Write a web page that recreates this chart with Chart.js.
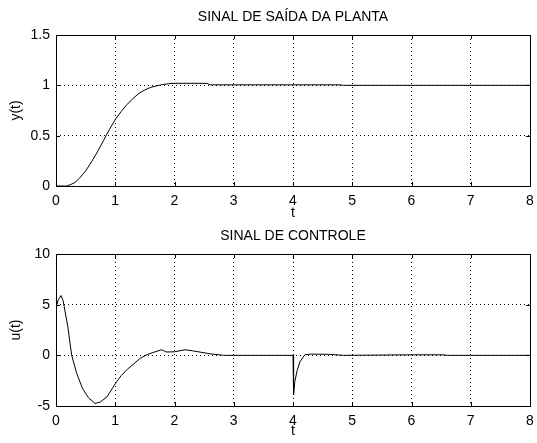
<!DOCTYPE html>
<html>
<head>
<meta charset="utf-8">
<script src="https://cdn.jsdelivr.net/npm/chart.js@4/dist/chart.umd.min.js"></script>
<style>
  body { margin: 0; background: #fff; }
  #wrap { position: relative; width: 537px; height: 443px; }
  canvas { position: absolute; left: 0; }
</style>
</head>
<body>
<div id="wrap">
  <canvas id="plantChart" style="top:0"></canvas>
  <canvas id="controlChart" style="top:222px"></canvas>
</div>
<script>
// plant output y(t)
var plantT = [0, 0.1, 0.18, 0.25, 0.32, 0.4, 0.5, 0.6, 0.7, 0.8, 0.9, 1.0, 1.1, 1.2, 1.3, 1.4, 1.5, 1.6, 1.7, 1.8, 1.9, 2.0, 2.55, 2.6, 4.8, 4.85, 8];
var plantY = [0, 0, 0, 0.015, 0.035, 0.08, 0.15, 0.24, 0.34, 0.45, 0.56, 0.66, 0.74, 0.81, 0.87, 0.92, 0.955, 0.98, 0.995, 1.008, 1.016, 1.02, 1.02, 1.005, 1.005, 1.0, 1.0];

// control signal u(t)
var controlT = [0, 0.005, 0.04, 0.085, 0.12, 0.2, 0.265, 0.35, 0.45, 0.55, 0.66, 0.75, 0.86, 1.0, 1.1, 1.2, 1.3, 1.42, 1.55, 1.65, 1.78, 1.82, 1.86, 2.0, 2.18, 2.3, 2.45, 2.6, 2.83, 4.0, 4.01, 4.03, 4.07, 4.12, 4.2, 4.3, 4.6, 4.85, 6.0, 6.55, 6.6, 8];
var controlU = [2.5, 4.8, 5.5, 5.9, 5.4, 2.8, 0, -1.8, -3.3, -4.2, -4.75, -4.6, -4.1, -2.8, -2.0, -1.4, -0.9, -0.3, 0.1, 0.3, 0.55, 0.45, 0.33, 0.35, 0.55, 0.45, 0.3, 0.15, 0, 0, -3.9, -2.6, -1.5, -0.6, 0.05, 0.12, 0.1, 0, 0.05, 0.05, 0, 0];

var xTicks = [0, 1, 2, 3, 4, 5, 6, 7, 8];
var plantTicks = [0, 0.5, 1, 1.5];
var controlTicks = [-5, 0, 5, 10];

var FONT = "'Liberation Sans', Arial, sans-serif";

// box round the plot area plus inward tick marks, matlab style
var boxPlugin = {
  id: "box",
  afterDraw: function (chart) {
    var ctx = chart.ctx;
    var a = chart.chartArea;
    var xs = chart.scales.x;
    var ys = chart.scales.y;
    ctx.save();
    ctx.strokeStyle = "#000";
    ctx.lineWidth = 1;
    ctx.strokeRect(Math.round(a.left) + 0.5, Math.round(a.top) + 0.5, Math.round(a.right - a.left), Math.round(a.bottom - a.top));
    ctx.beginPath();
    xs.ticks.forEach(function (t) {
      var px = Math.round(xs.getPixelForValue(t.value)) + 0.5;
      ctx.moveTo(px, a.bottom);
      ctx.lineTo(px, a.bottom - 4);
      ctx.moveTo(px, a.top);
      ctx.lineTo(px, a.top + 4);
    });
    ys.ticks.forEach(function (t) {
      var py = Math.round(ys.getPixelForValue(t.value)) + 0.5;
      ctx.moveTo(a.left, py);
      ctx.lineTo(a.left + 4, py);
      ctx.moveTo(a.right, py);
      ctx.lineTo(a.right - 4, py);
    });
    ctx.stroke();
    ctx.restore();
  },
};

function makeChart(id, h, xs, ys, title, topH, titlePadTop, yLabel, yTicks, xAxisH, xTitlePad) {
  var canvas = document.getElementById(id);
  canvas.width = 537;
  canvas.height = h;
  canvas.style.width = "537px";
  canvas.style.height = h + "px";
  return new Chart(canvas, {
    type: "line",
    data: {
      datasets: [
        {
          data: xs.map(function (t, i) { return { x: t, y: ys[i] }; }),
          borderColor: "#000",
          borderWidth: 1,
          pointRadius: 0,
          tension: 0,
        },
      ],
    },
    options: {
      responsive: false,
      animation: false,
      layout: { padding: { left: 0, right: 7, top: 0, bottom: 0 } },
      plugins: {
        legend: { display: false },
        tooltip: { enabled: false },
      },
      scales: {
        x: {
          type: "linear",
          min: 0,
          max: 8,
          afterBuildTicks: function (s) { s.ticks = xTicks.map(function (v) { return { value: v }; }); },
          afterFit: function (s) { s.height = xAxisH; s.paddingRight = 3; },
          ticks: { color: "#000", padding: 7, font: { family: FONT, size: 14 }, maxRotation: 0, callback: function (v) { return String(v); } },
          grid: { color: "#000", lineWidth: 1, drawTicks: false },
          border: { display: false, dash: [1, 3] },
          title: { display: true, text: "t", color: "#000", font: { family: FONT, size: 14 }, padding: { top: 0, bottom: xTitlePad } },
        },
        // top axis only carries the plot title, centred over the plot area
        top: {
          type: "linear",
          position: "top",
          min: 0,
          max: 8,
          afterFit: function (s) { s.height = topH; s.paddingRight = 3; s.paddingLeft = 0; },
          ticks: { display: false },
          grid: { display: false },
          border: { display: false },
          title: { display: true, text: title, color: "#000", font: { family: FONT, size: 14 }, padding: { top: titlePadTop, bottom: 0 } },
        },
        y: {
          type: "linear",
          min: yTicks[0],
          max: yTicks[yTicks.length - 1],
          afterBuildTicks: function (s) { s.ticks = yTicks.map(function (v) { return { value: v }; }); },
          afterFit: function (s) { s.width = 56; },
          ticks: { color: "#000", padding: 6, font: { family: FONT, size: 14 }, callback: function (v) { return String(v); } },
          grid: { color: "#000", lineWidth: 1, drawTicks: false },
          border: { display: false, dash: [1, 3] },
          title: { display: true, text: yLabel, color: "#000", font: { family: FONT, size: 14 }, padding: { top: 8, bottom: 0 } },
        },
      },
    },
    plugins: [boxPlugin],
  });
}

makeChart("plantChart", 222, plantT, plantY, "SINAL DE SAÍDA DA PLANTA", 35, 9, "y(t)", plantTicks, 36, 0);
makeChart("controlChart", 221, controlT, controlU, "SINAL DE CONTROLE", 32, 6, "u(t)", controlTicks, 37, 3);
</script>
</body>
</html>
